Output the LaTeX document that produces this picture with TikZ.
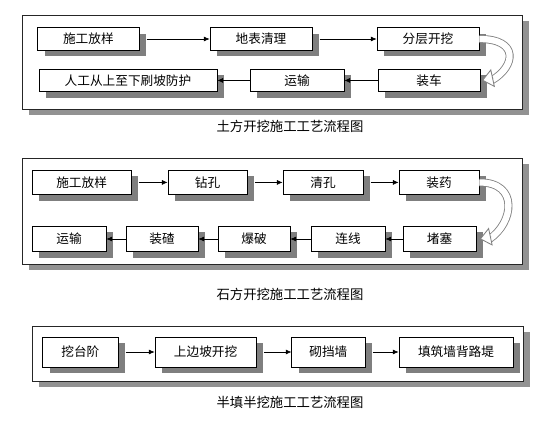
\documentclass[tikz,border=0pt]{standalone}
\usepackage{fontspec}
\setmainfont{Noto Sans CJK SC}
\usetikzlibrary{arrows.meta}
\definecolor{FlowShadow}{HTML}{7F7F7F}
\definecolor{FlowBend}{HTML}{808080}
\pgfdeclarelayer{panels}
\pgfsetlayers{panels,main}

\begin{document}
\begin{tikzpicture}[x=1cm,y=1cm,
  stepbox/.style={draw=black,line width=0.6pt,fill=white,inner sep=0pt,font=\fontsize{9}{10}\selectfont},
  panel/.style={draw=black!85,line width=0.7pt,fill=white},
  shade/.style={fill=FlowShadow!85,shift={(0.18,-0.15)}},
  flow/.style={line width=0.4pt,-{Latex[length=4pt,width=3.5pt]}},
  fwd/.style={flow,shorten <=0.18cm},
  turnband/.style={draw=FlowBend,double=white,double distance=4.5pt,line width=0.6pt},
  turntip/.style={draw=FlowBend,line width=0.6pt,-{Triangle[open,length=0.28cm,width=0.46cm,fill=white]}},
  caption/.style={font=\fontsize{9.5}{11}\selectfont}]
\path[use as bounding box] (0,0) rectangle (14,10.5);
\begin{pgfonlayer}{panels}
\fill[shade] (0.55,7.775) rectangle (13.05,10.125);
\draw[panel] (0.55,7.775) rectangle (13.05,10.125);
\fill[shade] (0.55,3.9) rectangle (13.05,6.55);
\draw[panel] (0.55,3.9) rectangle (13.05,6.55);
\fill[shade] (0.8,0.975) rectangle (13.075,2.35);
\draw[panel] (0.8,0.975) rectangle (13.075,2.35);
\fill[shade,fill=FlowShadow] (0.945,9.24) rectangle (3.475,9.81);
\fill[shade,fill=FlowShadow] (5.25,9.24) rectangle (7.8,9.81);
\fill[shade,fill=FlowShadow] (9.425,9.24) rectangle (11.975,9.81);
\fill[shade,fill=FlowShadow] (9.45,8.205) rectangle (12.0,8.775);
\fill[shade,fill=FlowShadow] (6.25,8.205) rectangle (8.6,8.775);
\fill[shade,fill=FlowShadow] (0.975,8.205) rectangle (5.425,8.775);
\fill[shade,fill=FlowShadow] (0.8,5.63) rectangle (3.28,6.25);
\fill[shade,fill=FlowShadow] (4.2,5.63) rectangle (6.18,6.25);
\fill[shade,fill=FlowShadow] (7.075,5.63) rectangle (9.075,6.25);
\fill[shade,fill=FlowShadow] (9.975,5.63) rectangle (11.975,6.25);
\fill[shade,fill=FlowShadow] (10.075,4.205) rectangle (11.905,4.845);
\fill[shade,fill=FlowShadow] (7.775,4.205) rectangle (9.625,4.845);
\fill[shade,fill=FlowShadow] (5.45,4.205) rectangle (7.25,4.845);
\fill[shade,fill=FlowShadow] (3.15,4.205) rectangle (4.95,4.845);
\fill[shade,fill=FlowShadow] (0.8,4.205) rectangle (2.65,4.845);
\fill[shade,fill=FlowShadow] (1.07,1.325) rectangle (2.95,2.075);
\fill[shade,fill=FlowShadow] (3.875,1.325) rectangle (6.405,2.075);
\fill[shade,fill=FlowShadow] (7.295,1.325) rectangle (9.125,2.075);
\fill[shade,fill=FlowShadow] (9.975,1.325) rectangle (12.825,2.075);
\end{pgfonlayer}

\node[stepbox,minimum width=2.53cm,minimum height=0.57cm] (t1) at (2.21,9.525) {施工放样};
\node[stepbox,minimum width=2.55cm,minimum height=0.57cm] (t2) at (6.525,9.525) {地表清理};
\node[stepbox,minimum width=2.55cm,minimum height=0.57cm] (t3) at (10.7,9.525) {分层开挖};
\node[stepbox,minimum width=2.55cm,minimum height=0.57cm] (t4) at (10.725,8.49) {装车};
\node[stepbox,minimum width=2.35cm,minimum height=0.57cm] (t5) at (7.425,8.49) {运输};
\node[stepbox,minimum width=4.45cm,minimum height=0.57cm] (t6) at (3.2,8.49) {人工从上至下刷坡防护};
\draw[fwd] (t1) -- (t2);
\draw[fwd] (t2) -- (t3);
\draw[flow] (t4) -- (t5);
\draw[flow] (t5) -- (t6);
\draw[turnband] (t3.east) .. controls +(1.0,0) and +(0.6,0.35) .. ([xshift=0.28cm]t4.east);
\draw[turntip] ([xshift=0.32cm,yshift=0.06cm]t4.east) -- ([xshift=0.04cm]t4.east);
\node[caption] (c1) at (7.25,7.35) {土方开挖施工工艺流程图};

\node[stepbox,minimum width=2.48cm,minimum height=0.62cm] (s1) at (2.04,5.94) {施工放样};
\node[stepbox,minimum width=1.98cm,minimum height=0.62cm] (s2) at (5.19,5.94) {钻孔};
\node[stepbox,minimum width=2.0cm,minimum height=0.62cm] (s3) at (8.075,5.94) {清孔};
\node[stepbox,minimum width=2.0cm,minimum height=0.62cm] (s4) at (10.975,5.94) {装药};
\node[stepbox,minimum width=1.83cm,minimum height=0.64cm] (s5) at (10.99,4.525) {堵塞};
\node[stepbox,minimum width=1.85cm,minimum height=0.64cm] (s6) at (8.7,4.525) {连线};
\node[stepbox,minimum width=1.8cm,minimum height=0.64cm] (s7) at (6.35,4.525) {爆破};
\node[stepbox,minimum width=1.8cm,minimum height=0.64cm] (s8) at (4.05,4.525) {装碴};
\node[stepbox,minimum width=1.85cm,minimum height=0.64cm] (s9) at (1.725,4.525) {运输};
\draw[fwd] (s1) -- (s2);
\draw[fwd] (s2) -- (s3);
\draw[fwd] (s3) -- (s4);
\draw[flow] (s5) -- (s6);
\draw[flow] (s6) -- (s7);
\draw[flow] (s7) -- (s8);
\draw[flow] (s8) -- (s9);
\draw[turnband] (s4.east) .. controls +(1.0,0) and +(0.6,0.4) .. ([xshift=0.32cm]s5.east);
\draw[turntip] ([xshift=0.36cm,yshift=0.06cm]s5.east) -- ([xshift=0.08cm]s5.east);
\node[caption] (c2) at (7.25,3.15) {石方开挖施工工艺流程图};

\node[stepbox,minimum width=1.88cm,minimum height=0.75cm] (h1) at (2.01,1.7) {挖台阶};
\node[stepbox,minimum width=2.53cm,minimum height=0.75cm] (h2) at (5.14,1.7) {上边坡开挖};
\node[stepbox,minimum width=1.83cm,minimum height=0.75cm] (h3) at (8.21,1.7) {砌挡墙};
\node[stepbox,minimum width=2.85cm,minimum height=0.75cm] (h4) at (11.4,1.7) {填筑墙背路堤};
\draw[fwd] (h1) -- (h2);
\draw[fwd] (h2) -- (h3);
\draw[fwd] (h3) -- (h4);
\node[caption] (c3) at (7.25,0.45) {半填半挖施工工艺流程图};
\end{tikzpicture}
\end{document}
